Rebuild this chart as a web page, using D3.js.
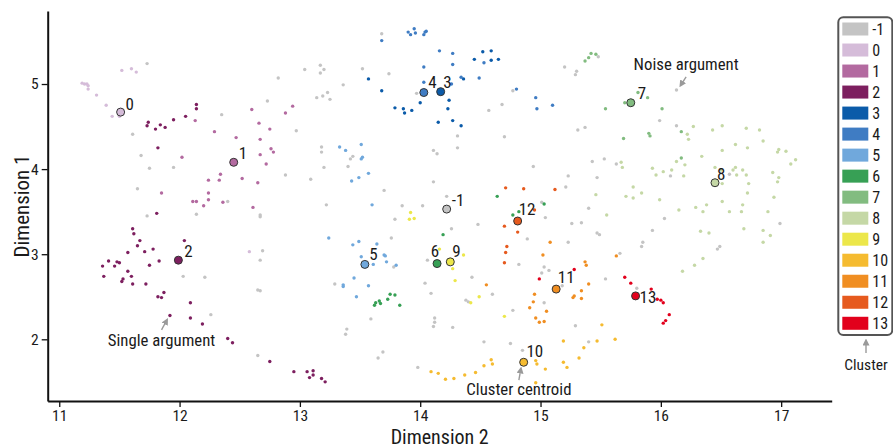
<!DOCTYPE html>
<html><head><meta charset="utf-8">
<script src="https://cdn.jsdelivr.net/npm/d3@7"></script>
<style>
html,body{margin:0;padding:0;background:#fff;}
svg text{font-family:"Roboto Condensed","Liberation Sans Narrow","Arial Narrow","DejaVu Sans Condensed",Roboto,sans-serif;fill:#1a1a1a;}
</style></head>
<body>
<svg id="chart" width="893" height="447"></svg>
<script>
// ---------- DATA ----------
const clusterIds = [-1,0,1,2,3,4,5,6,7,8,9,10,11,12,13];
const clusterColors = ["#c4c4c4","#d5bcd9","#b36aa0","#7d1f5f","#0b5ba9","#3f7cc3","#70a8dc","#37a055","#82bc80","#c5d8a6","#ece74a","#f5bb30","#f08e22","#e65a1e","#e2001c"];

const noisePts = [[11.73,5.24],[11.61,4.41],[11.68,4.16],[11.75,4.01],[11.95,4.02],[11.65,3.77],[11.73,3.45],[12.14,3.47],[12.40,3.62],[12.35,4.64],[12.73,4.80],[12.82,5.07],[12.97,4.45],[12.88,3.93],[12.67,3.46],[12.67,3.44],[12.03,2.74],[12.21,2.73],[12.26,2.29],[12.69,3.04],[12.67,2.93],[12.65,2.58],[12.67,2.57],[12.65,1.81],
[13.68,5.59],[13.04,5.17],[13.17,5.22],[13.20,5.17],[13.17,5.13],[13.52,5.18],[13.74,5.12],[13.36,4.99],[13.14,4.84],[13.19,4.86],[13.23,4.90],[13.25,4.82],[13.97,4.89],[14.77,4.92],[14.57,4.69],[14.68,4.76],[14.31,4.39],[14.31,4.25],[14.11,4.22],[14.14,4.18],[14.70,4.38],[13.18,4.26],[13.18,4.20],[13.42,4.12],[13.44,4.15],[13.20,4.02],[13.40,4.03],[13.09,3.88],[14.11,3.85],[14.94,4.03],[13.70,3.75],[14.22,3.68],
[13.22,3.58],[13.85,3.57],[14.02,3.57],[13.79,3.41],[14.26,3.30],[14.48,3.35],[13.76,3.19],[14.06,2.93],[14.89,3.18],[15.04,3.43],[14.82,2.88],[13.78,2.85],[14.43,2.73],[14.60,2.53],[13.29,2.65],[14.04,2.66],[14.09,2.54],[14.38,2.46],[14.40,2.44],[13.59,2.24],[14.12,2.25],[14.12,2.20],[14.11,2.15],[14.27,2.14],[14.77,2.34],[13.39,2.12],[13.38,2.06],[14.53,1.97],[14.75,1.95],[14.85,1.87],[13.69,1.85],[13.65,1.78],[13.98,1.67],
[15.20,5.20],[15.30,5.15],[15.29,5.11],[15.48,5.32],[16.13,4.93],[15.99,4.57],[16.13,4.51],[15.31,4.46],[15.37,4.49],[15.43,4.09],[15.53,4.12],[15.63,4.06],[15.23,3.92],[15.47,3.90],[15.21,3.79],[15.40,3.54],[16.08,3.92],[16.57,3.94],[15.01,3.61],
[15.26,3.36],[15.34,3.37],[15.47,3.25],[15.49,3.23],[15.23,3.14],[15.66,3.01],[15.85,3.14],[15.84,3.09],[15.93,3.28],[16.03,3.42],[16.99,3.36],[16.47,3.06],[16.49,3.09],[15.03,2.85],[15.07,2.81],[15.01,2.78],[15.54,2.71],[15.80,2.60],[15.03,2.43],[15.29,2.16],[15.40,1.97],[15.18,2.63]];
const c0Pts = [[11.19,5.01],[11.21,5.00],[11.23,5.00],[11.24,4.98],[11.24,4.94],[11.31,4.87],[11.39,4.75],[11.44,4.62],[11.50,4.62],[11.52,5.16],[11.60,5.18],[11.64,5.14],[12.58,3.03]];
const c1Pts = [[12.02,4.14],[11.85,3.72],[12.11,3.62],[12.14,3.62],[12.20,3.57],[12.24,3.64],[12.24,3.72],[12.24,3.87],[12.33,3.87],[12.34,3.94],[12.36,3.61],[12.29,4.44],[12.47,4.37],[12.52,3.89],[12.60,4.70],[12.66,4.54],[12.67,4.35],[12.67,4.17],[12.75,4.47],[12.76,4.24],[12.78,4.20],[12.72,4.06],[12.65,3.84],[12.61,3.55],[12.88,4.66],[12.94,4.74],[12.13,4.57]];
const c2Pts = [[11.73,4.51],[11.74,4.55],[11.80,4.47],[11.84,4.52],[11.88,4.49],[11.95,4.58],[12.05,4.62],[12.14,4.76],[12.14,4.71],[11.82,4.25],[11.81,3.48],[11.61,3.30],[11.62,3.24],[11.67,3.16],[11.57,3.02],[11.65,3.10],[11.71,3.03],[11.78,3.06],[12.04,3.16],[11.83,2.92],[11.75,2.87],[11.36,2.86],[11.41,2.92],[11.46,2.86],[11.48,2.91],[11.50,2.90],[11.37,2.74],[11.57,2.80],[11.60,2.74],[11.53,2.71],[11.52,2.68],[11.61,2.65],[11.72,2.65],[11.82,2.50],[11.85,2.49],[11.87,2.55],[12.09,2.43],[11.92,2.28],[12.09,2.25],[12.19,2.18],[12.40,2.01],[12.44,1.96],[12.75,1.74],[12.95,1.62],[13.06,1.62],[13.11,1.63],[13.08,1.55],[13.11,1.58],[13.18,1.54],[13.21,1.50]];
const c3Pts = [[14.45,5.29],[14.52,5.38],[14.59,5.39],[14.59,5.28],[14.65,5.29],[14.36,5.06],[14.24,4.81],[14.23,4.71],[14.27,4.57],[14.34,4.51],[14.15,4.55],[13.93,4.69],[13.87,4.66],[13.86,4.71],[13.57,5.06],[13.68,4.92],[13.79,4.72],[14.00,4.78]];
const c4Pts = [[13.90,5.61],[13.92,5.58],[13.95,5.65],[13.96,5.60],[14.03,5.58],[14.04,5.61],[14.05,5.62],[13.68,5.51],[14.03,5.20],[14.03,5.02],[14.80,4.94],[14.96,4.84],[14.97,4.71],[15.10,4.75],[14.16,5.39],[14.27,5.36],[14.27,5.23],[14.34,5.08],[14.26,5.00],[14.49,5.07],[14.53,5.25]];
const c5Pts = [[13.33,4.26],[13.38,4.22],[13.51,4.29],[13.51,4.12],[13.52,4.14],[13.43,3.86],[13.49,3.90],[13.57,3.95],[13.60,3.58],[13.24,3.19],[13.44,3.11],[13.49,3.15],[13.64,3.12],[13.51,2.97],[13.61,2.88],[13.70,2.99],[13.71,2.98],[13.72,2.91],[13.80,2.87],[13.36,2.64],[13.36,2.62],[13.45,2.72],[13.57,2.63],[13.47,2.50]];
const c6Pts = [[14.77,3.46],[14.82,3.50],[15.03,3.59],[14.19,3.23],[13.62,2.40],[13.63,2.43],[13.66,2.45],[13.67,2.42],[13.73,2.47],[13.75,2.53],[13.79,2.52],[13.83,2.40],[14.64,3.68]];
const c7Pts = [[15.37,5.27],[15.40,5.31],[15.42,5.36],[15.46,5.35],[15.70,4.78],[15.81,4.90],[15.89,4.84],[15.54,4.71],[16.01,4.71],[15.69,4.36],[15.90,4.42],[15.91,4.39],[16.17,4.44],[16.17,4.13]];
const c8Pts = [[16.27,4.50],[16.22,4.41],[16.23,4.35],[16.43,4.46],[16.51,4.51],[16.71,4.48],[16.82,4.46],[16.62,4.29],[16.72,4.25],[16.85,4.33],[16.51,4.22],[16.34,4.15],[16.13,4.09],[16.20,4.05],[16.98,4.23],[16.97,4.20],[17.04,4.21],[17.12,4.11],[17.08,4.06],[15.67,4.08],[15.68,4.02],[15.93,4.01],[15.96,3.93],[16.02,3.97],[16.09,3.99],[16.19,3.92],[16.45,4.02],[16.50,3.99],[16.60,3.99],[16.62,4.02],[16.68,3.99],[16.71,3.93],[16.63,3.93],[16.73,3.83],[16.93,3.96],[16.98,3.90],[16.97,3.85],[16.51,3.83],[15.77,3.79],[15.84,3.72],[15.71,3.68],[15.77,3.66],[15.46,3.70],[15.99,3.64],[16.72,3.72],[16.94,3.67],[16.51,3.62],[16.68,3.58],[16.29,3.55],[16.35,3.50],[16.38,3.58],[16.15,3.52],[16.57,3.50],[16.67,3.50],[16.89,3.50],[15.55,3.46],[16.33,3.27],[16.40,3.25],[16.69,3.30],[16.85,3.28],[16.91,3.22],[16.85,3.14],[16.35,2.95],[16.28,2.87],[16.18,2.80]];
const c9Pts = [[13.92,3.49],[13.91,3.41],[13.95,3.42],[14.16,3.06],[14.36,2.99],[14.27,2.83],[14.29,2.69],[14.42,2.43],[14.49,2.50],[14.70,2.27]];
const c10Pts = [[14.09,1.62],[14.15,1.60],[14.21,1.53],[14.28,1.54],[14.37,1.58],[14.46,1.61],[14.53,1.69],[14.59,1.76],[14.60,1.71],[14.96,1.75],[14.97,1.71],[15.04,1.65],[14.96,1.49],[15.19,1.98],[15.19,1.73],[15.22,1.67],[15.36,1.90],[15.32,1.78],[15.47,1.98],[15.51,2.17],[15.62,2.00]];
const c11Pts = [[15.08,3.14],[15.02,2.99],[14.55,2.64],[14.95,2.53],[14.94,2.44],[14.91,2.37],[15.05,2.33],[14.96,2.25],[14.99,2.20],[15.03,2.21],[15.27,2.49],[15.37,2.91],[15.38,2.87],[15.40,2.65],[15.34,2.57],[15.28,2.51],[15.34,2.48],[15.63,2.98]];
const c12Pts = [[14.71,3.78],[14.86,3.77],[15.12,3.76],[14.95,3.52],[14.70,3.33],[14.81,3.26],[14.72,3.09],[14.71,3.02],[14.70,2.90]];
const c13Pts = [[15.28,2.82],[15.70,2.73],[15.75,2.66],[15.92,2.59],[15.97,2.47],[16.00,2.46],[16.02,2.43],[16.07,2.29],[16.04,2.22],[16.02,2.19],[14.99,2.71]];

const centroidIds = [-1,0,1,2,3,4,5,6,7,8,9,10,11,12,13];
const centroidX = [14.22,11.51,12.45,11.99,14.17,14.03,13.54,14.14,15.75,16.45,14.25,14.86,15.13,14.81,15.79];
const centroidY = [3.53,4.67,4.08,2.93,4.91,4.90,2.88,2.89,4.78,3.84,2.91,1.73,2.59,3.39,2.51];

const xTicks = [11,12,13,14,15,16,17];
const yTicks = [2,3,4,5];
const xTitle = "Dimension 2";
const yTitle = "Dimension 1";

// annotations: text anchored at data coords, arrow from->to in data coords
const annoText = ["Single argument","Noise argument","Cluster centroid"];
const annoTextX = [11.85,16.21,14.82];
const annoTextY = [1.92,5.165,1.345];
const annoArrowFrom = [[11.85,2.11],[16.21,5.085],[14.82,1.52]];
const annoArrowTo = [[11.89,2.215],[16.17,4.996],[14.835,1.64]];

// ---------- LAYOUT ----------
const seriesPts = [noisePts,c0Pts,c1Pts,c2Pts,c3Pts,c4Pts,c5Pts,c6Pts,c7Pts,c8Pts,c9Pts,c10Pts,c11Pts,c12Pts,c13Pts];
const color = d3.scaleOrdinal().domain(clusterIds).range(clusterColors);

const svg = d3.select("#chart");
const x = d3.scaleLinear().domain([10.904, 17.42]).range([47.7, 831.7]);
const y = d3.scaleLinear().domain([1.275, 5.858]).range([401, 11]);

// arrow marker
const defs = svg.append("defs");
defs.append("marker").attr("id","ah").attr("viewBox","0 0 10 10").attr("refX",5).attr("refY",5)
  .attr("markerWidth",5).attr("markerHeight",5).attr("orient","auto-start-reverse")
  .append("path").attr("d","M0,0 L10,5 L0,10 z").attr("fill","#9a9a9a");

// points
const gPts = svg.append("g");
clusterIds.forEach((id,i)=>{
  gPts.append("g").selectAll("circle").data(seriesPts[i]).join("circle")
    .attr("cx",d=>x(d[0])).attr("cy",d=>y(d[1])).attr("r",1.7)
    .attr("fill",color(id));
});

// axes
const xAxis = svg.append("g").attr("transform","translate(0,401)")
  .call(d3.axisBottom(x).tickValues(xTicks).tickSize(6).tickSizeOuter(0).tickPadding(2.5).tickFormat(d3.format("d")));
const yAxis = svg.append("g").attr("transform","translate(47.7,0)")
  .call(d3.axisLeft(y).tickValues(yTicks).tickSize(6).tickSizeOuter(0).tickPadding(3).tickFormat(d3.format("d")));
[xAxis,yAxis].forEach(a=>{
  a.attr("font-family",null);
  a.select(".domain").attr("stroke","#111").attr("stroke-width",2);
  a.selectAll(".tick line").attr("stroke","#111").attr("stroke-width",1.3);
  a.selectAll(".tick text").attr("font-size",15.5).attr("fill","#1a1a1a");
});

svg.append("text").attr("x",(47.7+831.7)/2).attr("y",443.5).attr("text-anchor","middle")
  .attr("font-size",20).text(xTitle);
svg.append("text").attr("transform","translate(29,206) rotate(-90)").attr("text-anchor","middle")
  .attr("font-size",21).text(yTitle);

// annotations
annoText.forEach((t,i)=>{
  svg.append("line").attr("x1",x(annoArrowFrom[i][0])).attr("y1",y(annoArrowFrom[i][1]))
    .attr("x2",x(annoArrowTo[i][0])).attr("y2",y(annoArrowTo[i][1]))
    .attr("stroke","#9a9a9a").attr("stroke-width",1.4).attr("marker-end","url(#ah)");
  svg.append("text").attr("x",x(annoTextX[i])).attr("y",y(annoTextY[i])).attr("text-anchor","middle")
    .attr("font-size",16.8).text(t);
});

// centroids
const cen = centroidIds.map((id,i)=>({id, cx:centroidX[i], cy:centroidY[i]}));
svg.append("g").selectAll("circle").data(cen).join("circle")
  .attr("cx",d=>x(d.cx)).attr("cy",d=>y(d.cy)).attr("r",4)
  .attr("fill",d=>color(d.id)).attr("stroke","#333").attr("stroke-width",1);

// label nudges (px)
const nudge = {"-1":[5,-3.3,"start"],0:[5,-2.5,"start"],1:[5,-3.5,"start"],2:[6,-3,"start"],3:[2.5,-3.4,"start"],
  4:[4.5,-4.4,"start"],5:[4.5,-4.3,"start"],6:[-2,-6.6,"middle"],7:[7,-4,"start"],8:[2,-3,"start"],
  9:[2,-5.3,"start"],10:[2.7,-5,"start"],11:[1.6,-5.7,"start"],12:[1,-6,"start"],13:[4,7,"start"]};
svg.append("g").selectAll("text").data(cen).join("text")
  .attr("x",d=>x(d.cx)+nudge[d.id][0]).attr("y",d=>y(d.cy)+nudge[d.id][1])
  .attr("text-anchor",d=>nudge[d.id][2]).attr("font-size",17).text(d=>d.id);

// legend
const lg = svg.append("g");
lg.append("rect").attr("x",838.3).attr("y",17.3).attr("width",54).attr("height",317.7).attr("rx",5)
  .attr("fill","#fff").attr("stroke","#555").attr("stroke-width",2);
const items = lg.selectAll("g.item").data(clusterIds).join("g").attr("class","item")
  .attr("transform",(d,i)=>`translate(842.3,${29+i*21.02})`);
items.append("rect").attr("x",0).attr("y",-6.5).attr("width",26).attr("height",13).attr("fill",d=>color(d));
items.append("text").attr("x",30).attr("y",5.5).attr("font-size",16).text(d=>d);
lg.append("line").attr("x1",866).attr("y1",353).attr("x2",866).attr("y2",342)
  .attr("stroke","#9a9a9a").attr("stroke-width",1.4).attr("marker-end","url(#ah)");
lg.append("text").attr("x",866).attr("y",370).attr("text-anchor","middle").attr("font-size",15.5).text("Cluster");
</script>
</body></html>
